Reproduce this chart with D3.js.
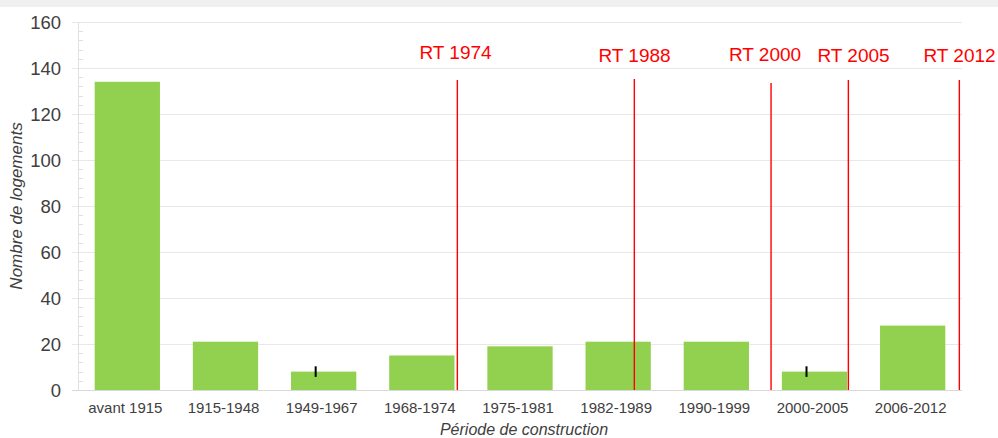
<!DOCTYPE html>
<html>
<head>
<meta charset="utf-8">
<script src="https://cdn.jsdelivr.net/npm/d3@7"></script>
<style>
body { margin: 0; background: #fff; }
svg { display: block; font-family: "Liberation Sans", Arial, sans-serif; }
</style>
</head>
<body>
<svg id="chart" width="998" height="438"></svg>
<script>
// data
var categories = ['avant 1915', '1915-1948', '1949-1967', '1968-1974', '1975-1981', '1982-1989', '1990-1999', '2000-2005', '2006-2012'];
var values = [134, 21, 8, 15, 19, 21, 21, 8, 28];
var errors = [0, 0, 2.3, 0, 0, 0, 0, 2.3, 0];
var yTicks = [0, 20, 40, 60, 80, 100, 120, 140, 160];
var rtLabels = ['RT 1974', 'RT 1988', 'RT 2000', 'RT 2005', 'RT 2012'];
// position of each regulation line, in category units (0 = left edge of the axis)
var rtPos = [3.862, 5.664, 7.056, 7.843, 8.973];
var rtLabelY = [59, 62, 61, 62, 62];
var rtLineTop = [80, 79, 83, 80, 80];

var svg = d3.select('#chart');
var pLeft = 78, pRight = 962, pTop = 22, pBottom = 390;

svg.append('rect').attr('x', 0).attr('y', 0).attr('width', 998).attr('height', 7).attr('fill', '#f0f0f0');

var x = d3.scaleBand().domain(categories).range([pLeft, pRight]).paddingInner(0.335).paddingOuter(0.17);
var xu = d3.scaleLinear().domain([0, 9]).range([pLeft, pRight]);
var y = d3.scaleLinear().domain([0, 160]).range([pBottom, pTop]);

// grid
svg.append('g').selectAll('line').data(yTicks).join('line')
	.attr('x1', pLeft - 6).attr('x2', pRight)
	.attr('y1', function(d){ return Math.round(y(d)) + 0.5; }).attr('y2', function(d){ return Math.round(y(d)) + 0.5; })
	.attr('stroke', function(d){ return d === 0 ? '#d9d9d9' : '#e8e8e8'; })
	.attr('stroke-width', 1);

// minor ticks
var minor = d3.range(0, 161, 4).filter(function(d){ return d % 20 !== 0; });
svg.append('g').selectAll('line').data(minor).join('line')
	.attr('x1', pLeft).attr('x2', pLeft + 5)
	.attr('y1', function(d){ return Math.round(y(d)) + 0.5; }).attr('y2', function(d){ return Math.round(y(d)) + 0.5; })
	.attr('stroke', '#e0e0e0');

svg.append('line').attr('x1', pLeft + 0.5).attr('x2', pLeft + 0.5).attr('y1', pTop).attr('y2', pBottom)
	.attr('stroke', '#e0e0e0');

// y labels
svg.append('g').selectAll('text').data(yTicks).join('text')
	.attr('x', 61).attr('y', function(d){ return y(d) + 7; })
	.attr('text-anchor', 'end').attr('font-size', 18.5).attr('fill', '#404040')
	.text(function(d){ return d; });

// bars
svg.append('g').selectAll('rect').data(values).join('rect')
	.attr('x', function(d, i){ return x(categories[i]); })
	.attr('width', x.bandwidth())
	.attr('y', function(d){ return y(d); })
	.attr('height', function(d){ return y(0) - y(d); })
	.attr('fill', '#92d050');

// error marks
svg.append('g').selectAll('line').data(values.map(function(v, i){ return {v: v, e: errors[i], c: categories[i]}; }).filter(function(d){ return d.e > 0; }))
	.join('line')
	.attr('x1', function(d){ return x(d.c) + x.bandwidth() / 2 - 8; })
	.attr('x2', function(d){ return x(d.c) + x.bandwidth() / 2 - 8; })
	.attr('y1', function(d){ return y(d.v + d.e); })
	.attr('y2', function(d){ return y(d.v - d.e); })
	.attr('stroke', '#000').attr('stroke-width', 2);

// x labels
svg.append('g').selectAll('text').data(categories).join('text')
	.attr('x', function(d){ return x(d) + x.bandwidth() / 2 - 2; })
	.attr('y', 413)
	.attr('text-anchor', 'middle').attr('font-size', 15).attr('fill', '#404040')
	.text(function(d){ return d; });

// RT lines
svg.append('g').selectAll('line').data(rtPos).join('line')
	.attr('x1', function(d){ return xu(d); }).attr('x2', function(d){ return xu(d); })
	.attr('y1', function(d, i){ return rtLineTop[i]; }).attr('y2', pBottom)
	.attr('stroke', '#ff0000').attr('stroke-width', 1.4);

var rtTextX = [455.5, 634.5, 765, 853.5, 959.5];
svg.append('g').selectAll('text').data(rtLabels).join('text')
	.attr('x', function(d, i){ return rtTextX[i]; })
	.attr('y', function(d, i){ return rtLabelY[i]; })
	.attr('text-anchor', 'middle').attr('font-size', 19).attr('fill', '#ff0000')
	.text(function(d){ return d; });

// axis titles
svg.append('text').attr('transform', 'translate(22,206) rotate(-90)')
	.attr('text-anchor', 'middle').attr('font-size', 17).attr('font-style', 'italic').attr('fill', '#404040')
	.text('Nombre de logements');

svg.append('text').attr('x', 524).attr('y', 435)
	.attr('text-anchor', 'middle').attr('font-size', 16).attr('font-style', 'italic').attr('fill', '#404040')
	.text('Période de construction');
</script>
</body>
</html>
